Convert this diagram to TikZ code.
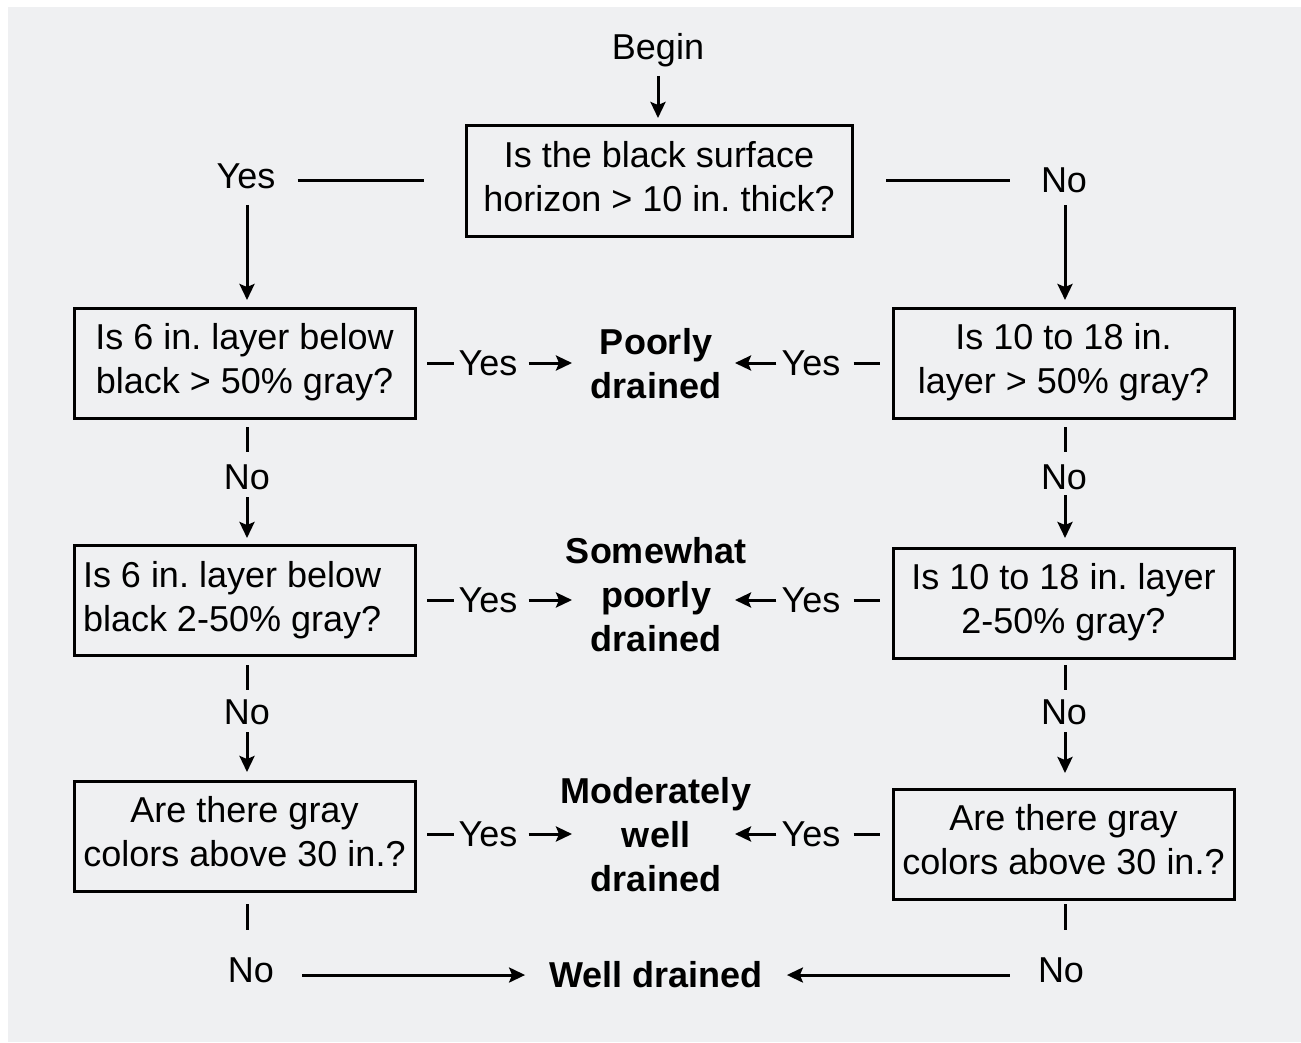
\documentclass[tikz,border=0pt]{standalone}
\usepackage{fontspec}
\setmainfont{Liberation Sans}
\usetikzlibrary{arrows.meta}
\newcommand\myfs{\fontsize{36}{44}\selectfont\frenchspacing}
\definecolor{panel}{RGB}{239,240,242}
\begin{document}
\begin{tikzpicture}[x=1pt,y=-1pt,
  txt/.style={inner sep=0pt,font=\myfs},
  outc/.style={inner sep=0pt,align=center,font=\myfs\bfseries},
  qbox/.style={draw,line width=3pt,minimum width=341pt,minimum height=110pt,inner sep=0pt,align=center,font=\myfs},
  tdep/.style={text depth=9pt},
  ln/.style={line width=3pt},
  arr/.style={line width=3pt,-{Stealth[length=16pt,width=15pt,inset=3pt]}}]
\useasboundingbox (0,0) rectangle (1301,1042);
\fill[panel] (8,7) rectangle (1301,1042);

% nodes
\node[txt] (begin) at (658,50) {Begin};
\node[qbox,tdep,minimum width=386pt,minimum height=111pt] (q0) at (659,180.5) {Is the black surface\\horizon > 10 in. thick?};
\node[txt] (yes0) at (246,176) {Yes};
\node[txt] (no0) at (1064,180) {No};

\node[qbox,tdep] (L1) at (244.5,363) {Is 6 in. layer below\\black > 50\% gray?};
\node[qbox,tdep] (R1) at (1063.5,363) {Is 10 to 18 in.\\layer > 50\% gray?};
\node[qbox,text width=323pt,inner xsep=9pt,align=flush left] (L2) at (244.5,600) {Is 6 in. layer below\\black 2-50\% gray?};
\node[qbox,tdep] (R2) at (1063.5,603) {Is 10 to 18 in. layer\\2-50\% gray?};
\node[qbox,tdep] (L3) at (244.5,836) {Are there gray\\colors above 30 in.?};
\node[qbox,tdep] (R3) at (1063.5,844) {Are there gray\\colors above 30 in.?};

\node[outc] (P) at (656,363.5) {Poorly\\drained};
\node[outc] (S) at (656,594.5) {Somewhat\\poorly\\drained};
\node[outc] (M) at (656,834.5) {Moderately\\well\\drained};
\node[outc] (W) at (656,975) {Well drained};

\node[txt] (yL1) at (488,363) {Yes};
\node[txt] (yR1) at (811,363) {Yes};
\node[txt] (yL2) at (488,600) {Yes};
\node[txt] (yR2) at (811,600) {Yes};
\node[txt] (yL3) at (488,834) {Yes};
\node[txt] (yR3) at (811,834) {Yes};

\node[txt] (nL1) at (247,477) {No};
\node[txt] (nR1) at (1064,477) {No};
\node[txt] (nL2) at (247,712) {No};
\node[txt] (nR2) at (1064,712) {No};
\node[txt] (nL3) at (251,970) {No};
\node[txt] (nR3) at (1061,970) {No};

% top connectors
\draw[arr,shorten <=9pt,shorten >=5.5pt] (begin.south) -- (begin.south |- q0.north);
\draw[ln,shorten <=22pt,shorten >=40.5pt] (yes0.east |- q0.west) -- (q0.west);
\draw[ln,shorten <=32.5pt,shorten >=31pt] (q0.east) -- (no0.west |- q0.east);
\draw[arr,shorten <=16pt,shorten >=6.5pt] ([xshift=1pt]yes0.south) -- ([xshift=1pt]yes0.south |- L1.north);
\draw[arr,shorten <=12.5pt,shorten >=6.5pt] ([xshift=1pt]no0.south) -- ([xshift=1pt]no0.south |- R1.north);

% Yes rows
\foreach \l/\r/\yl/\yr/\o in {L1/R1/yL1/yR1/P, L2/R2/yL2/yR2/S, L3/R3/yL3/yR3/M}{
  \draw[ln,shorten <=10.5pt,shorten >=4pt] (\l.east |- \yl) -- (\yl.west);
  \draw[arr,shorten <=11pt,shorten >=84pt] (\yl.east) -- (\o.center |- \yl);
  \draw[arr,shorten <=5pt,shorten >=79pt] (\yr.west) -- (\o.center |- \yr);
  \draw[ln,shorten <=13pt,shorten >=11.5pt] (\yr.east) -- (\r.west |- \yr);
}

% No columns
\draw[ln,shorten <=7.5pt,shorten >=12.5pt] (L1.south -| nL1) -- (nL1.north);
\draw[arr,shorten <=7.5pt,shorten >=5.5pt] (nL1.south) -- (nL1.south |- L2.north);
\draw[ln,shorten <=7.5pt,shorten >=12.5pt] ([xshift=1pt]R1.south -| nR1) -- ([xshift=1pt]nR1.north);
\draw[arr,shorten <=5.5pt,shorten >=8.5pt] ([xshift=1pt]nR1.south) -- ([xshift=1pt]nR1.south |- R2.north);
\draw[ln,shorten <=8.5pt,shorten >=9.5pt] (L2.south -| nL2) -- (nL2.north);
\draw[arr,shorten <=7.5pt,shorten >=7.5pt] (nL2.south) -- (nL2.south |- L3.north);
\draw[ln,shorten <=5.5pt,shorten >=9.5pt] ([xshift=1pt]R2.south -| nR2) -- ([xshift=1pt]nR2.north);
\draw[arr,shorten <=7.5pt,shorten >=14.5pt] ([xshift=1pt]nR2.south) -- ([xshift=1pt]nR2.south |- R3.north);
\draw[ln,shorten <=11.5pt,shorten >=27.5pt] (L3.south -| nL2) -- (nL3.north -| nL2);
\draw[ln,shorten <=3.5pt,shorten >=27.5pt] ([xshift=1pt]R3.south -| nR2) -- ([xshift=1pt]nR3.north -| nR2);
\draw[arr,shorten <=28pt,shorten >=24pt] (nL3.east |- W) -- (W.west);
\draw[arr,shorten <=28pt,shorten >=24pt] (nR3.west |- W) -- (W.east);
\end{tikzpicture}
\end{document}
